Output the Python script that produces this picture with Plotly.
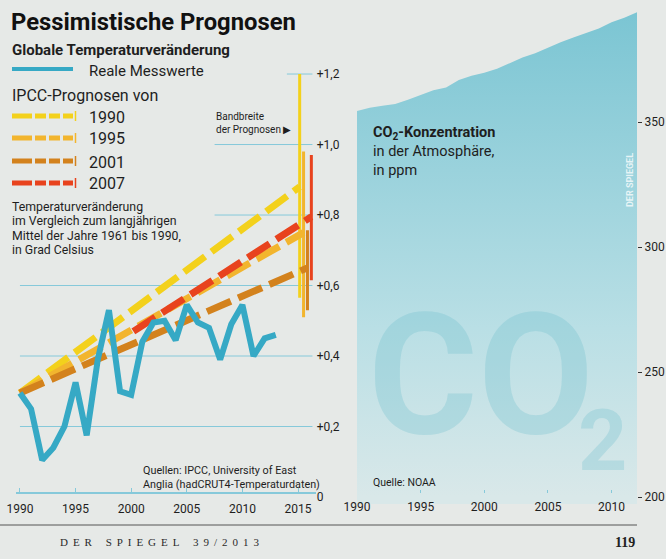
import plotly.graph_objects as go

W, H = 666, 559
def px(x): return x / W
def py(y): return 1 - y / H

# ---------------- data ----------------
TEMP_YEARS = list(range(1990, 2014))
TEMP = [0.295, 0.25, 0.105, 0.14, 0.20, 0.325, 0.175, 0.39, 0.53, 0.30,
        0.29, 0.44, 0.495, 0.50, 0.445, 0.545, 0.495, 0.48, 0.39, 0.49,
        0.545, 0.40, 0.45, 0.46]

PROJ_NAMES = ["1990", "1995", "2001", "2007"]
PROJ_X0 = [1990, 1990, 1990, 2000.2]
PROJ_Y0 = [0.295, 0.295, 0.295, 0.47]
PROJ_X1 = [2015.15, 2015.5, 2015.85, 2016.2]
PROJ_Y1 = [0.88, 0.75, 0.65, 0.795]
BAND_LO = [0.565, 0.51, 0.53, 0.615]
BAND_HI = [1.2, 0.98, 0.757, 0.97]
PROJ_COLORS = ["#f3d11c", "#f2b52e", "#d3821d", "#e8431e"]

CO2_YEARS = list(range(1990, 2013))
CO2 = [354.4, 355.7, 356.5, 357.2, 358.9, 360.9, 362.7, 363.8, 366.8, 368.5,
       369.7, 371.3, 373.5, 375.8, 377.5, 379.8, 381.9, 383.8, 385.6, 387.4,
       389.9, 391.7, 393.9]

T_TICKS = [0, 0.2, 0.4, 0.6, 0.8, 1.0, 1.2]
T_TICKTEXT = ["0", "+0,2", "+0,4", "+0,6", "+0,8", "+1,0", "+1,2"]
GRID_START = [None, 1990, 1990, 1990, 2007.5, 2007.5, 2014.0]
GRID_END = 2016.3
X_TICKS_L = [1990, 1995, 2000, 2005, 2010, 2015]
X_TICKS_R = [1990, 1995, 2000, 2005, 2010]
CO2_TICKS = [200, 250, 300, 350]

BG = "#e6e9e7"
BLUE = "#36a9c5"
GRID = "#86c9da"
FONT = "Roboto"
DARK = "#1e1e1e"

fig = go.Figure()

# CO2 area
fig.add_trace(go.Scatter(
    x=CO2_YEARS, y=CO2, xaxis="x2", yaxis="y2", mode="lines",
    line=dict(width=0, color="#7cc6d4"), fill="tozeroy",
    fillgradient=dict(type="vertical", start=200, stop=394,
                      colorscale=[[0, "#d9e8e9"], [0.35, "#b9dfe5"], [1, "#7bc5d3"]]),
    hoverinfo="skip", showlegend=False))

# band ranges
for i, name in enumerate(PROJ_NAMES):
    fig.add_trace(go.Scatter(
        x=[PROJ_X1[i], PROJ_X1[i]], y=[BAND_LO[i], BAND_HI[i]],
        mode="lines", line=dict(color=PROJ_COLORS[i], width=3),
        showlegend=False, hoverinfo="skip"))

# projections
for i, name in enumerate(PROJ_NAMES):
    fig.add_trace(go.Scatter(
        x=[PROJ_X0[i], PROJ_X1[i]], y=[PROJ_Y0[i], PROJ_Y1[i]],
        mode="lines", line=dict(color=PROJ_COLORS[i], width=7, dash="26px,8px"),
        showlegend=False, hoverinfo="skip"))

# measured
fig.add_trace(go.Scatter(
    x=TEMP_YEARS, y=TEMP, mode="lines",
    line=dict(color=BLUE, width=6, shape="linear"),
    showlegend=False, hoverinfo="skip"))

shapes = []
# partial grid lines
for v, s in zip(T_TICKS, GRID_START):
    if s is None:
        continue
    shapes.append(dict(type="line", xref="x", yref="y", x0=s, x1=GRID_END, y0=v, y1=v,
                       line=dict(color=GRID, width=1), layer="below"))

# legend keys
shapes.append(dict(type="line", xref="paper", yref="paper", x0=px(12), x1=px(73),
                   y0=py(69), y1=py(69), line=dict(color=BLUE, width=4)))
LEG_Y = [116, 138, 161, 183]
for i, name in enumerate(PROJ_NAMES):
    shapes.append(dict(type="line", xref="paper", yref="paper", x0=px(12), x1=px(73),
                       y0=py(LEG_Y[i]), y1=py(LEG_Y[i]),
                       line=dict(color=PROJ_COLORS[i], width=5,
                                 dash="20px,3px,11px,3px,11px,3px,13px,20px")))
    shapes.append(dict(type="line", xref="paper", yref="paper", x0=px(75.5), x1=px(75.5),
                       y0=py(LEG_Y[i] - 5), y1=py(LEG_Y[i] + 5),
                       line=dict(color=PROJ_COLORS[i], width=1.5)))

# footer line
shapes.append(dict(type="line", xref="paper", yref="paper", x0=0, x1=px(637),
                   y0=py(525), y1=py(525), line=dict(color="#555555", width=1)))

ann = []
def text(x, y, t, size, color=DARK, xanchor="left", yanchor="middle", family=FONT, **kw):
    ann.append(dict(x=px(x), y=py(y), xref="paper", yref="paper", text=t, showarrow=False,
                    xanchor=xanchor, yanchor=yanchor, align="left",
                    font=dict(family=family, size=size, color=color), **kw))

# watermark CO2
WM = "rgba(95,185,202,0.26)"
text(366, 375, "<b>CO</b>", 168, color=WM)
text(576, 440, "<b>2</b>", 86, color=WM)

text(9, 22, "<b>Pessimistische Prognosen</b>", 23.8, color="#111111")
text(10, 50, "<b>Globale Temperaturveränderung</b>", 15)
for i, name in enumerate(PROJ_NAMES):
    text(87, LEG_Y[i] + 1, name, 16)
text(87, 71, "Reale Messwerte", 15)
text(10, 95, "IPCC-Prognosen von", 16)
DESC = ["Temperaturveränderung", "im Vergleich zum langjährigen",
        "Mittel der Jahre 1961 bis 1990,", "in Grad Celsius"]
for i, line in enumerate(DESC):
    text(10, 207 + i * 14.4, line, 12.3)
text(214, 123, "Bandbreite<br>der Prognosen ▶", 10)
text(141, 477, "Quellen: IPCC, University of East<br>Anglia (hadCRUT4-Temperaturdaten)", 10.8)
text(371, 482, "Quelle: NOAA", 10.5)
text(371, 151, "<b>CO<sub>2</sub>-Konzentration</b><br>in der Atmosphäre,<br>in ppm", 14.5)
text(630, 180, "<b>DER SPIEGEL</b>", 9, color="rgba(255,255,255,0.75)", xanchor="center", textangle=-90)
sp = "\u00a0\u2009"
gap = "\u00a0" * 5
footer = gap.join(sp.join(w) for w in ["DER", "SPIEGEL", "39/2013"])
text(159.5, 542, footer, 11, color="#2a2a2a", family="Liberation Serif", xanchor="center")
text(637, 542, "<b>119</b>", 14, color="#222222", xanchor="right", family="Liberation Serif")

fig.update_layout(
    width=W, height=H, margin=dict(l=0, r=0, t=0, b=0, autoexpand=False),
    paper_bgcolor=BG, plot_bgcolor="rgba(0,0,0,0)",
    showlegend=False, shapes=shapes, annotations=ann,
    xaxis=dict(domain=[px(15.5), px(315.8)], range=[1989.6, 2016.6], anchor="free",
               position=py(493), tickvals=X_TICKS_L, ticks="inside", ticklen=4,
               tickcolor=GRID, showline=True, linecolor=GRID, linewidth=1.5,
               showgrid=False, zeroline=False, ticklabelstandoff=5, automargin=False,
               tickfont=dict(family=FONT, size=12, color=DARK)),
    yaxis=dict(domain=[py(504.05), py(56.4)], range=[-0.02, 1.25], anchor="x", side="right",
               tickvals=T_TICKS, ticktext=T_TICKTEXT, showgrid=False, zeroline=False,
               ticks="", automargin=False, tickfont=dict(family=FONT, size=12, color=DARK)),
    xaxis2=dict(domain=[px(357), px(637)], range=[1990, 2012], anchor="free",
                position=py(493), tickvals=X_TICKS_R, ticks="inside", ticklen=3,
                tickcolor=GRID, showline=False, showgrid=False, zeroline=False,
                ticklabelstandoff=5, automargin=False,
                tickfont=dict(family=FONT, size=12, color=DARK)),
    yaxis2=dict(domain=[py(504.05), 1], range=[197.2, 398.8], anchor="x2", side="right",
                tickvals=CO2_TICKS, ticks="outside", ticklen=4, tickcolor="#333333",
                showgrid=False, zeroline=False, showline=False, automargin=False,
                tickfont=dict(family=FONT, size=12, color=DARK)),
)

fig.write_html("out.html")
